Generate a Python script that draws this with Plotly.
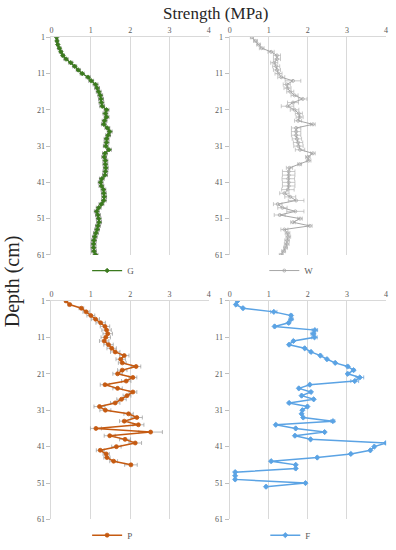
import plotly.graph_objects as go

# ---------------- data ----------------
depth_G = list(range(1, 62))
G_vals = [0.13, 0.14, 0.16, 0.20, 0.24, 0.29, 0.37, 0.49, 0.59, 0.68,
          0.78, 0.93, 1.01, 1.12, 1.16, 1.20, 1.24, 1.26, 1.27, 1.29,
          1.40, 1.37, 1.40, 1.35, 1.33, 1.42, 1.48, 1.44, 1.40, 1.40,
          1.38, 1.46, 1.36, 1.34, 1.37, 1.37, 1.38, 1.37, 1.36, 1.28,
          1.25, 1.27, 1.32, 1.33, 1.34, 1.33, 1.27, 1.20, 1.15, 1.18,
          1.20, 1.21, 1.18, 1.16, 1.13, 1.10, 1.08, 1.07, 1.07, 1.08,
          1.12]
G_err = [0.03, 0.03, 0.03, 0.04, 0.04, 0.04, 0.05, 0.05, 0.05, 0.05,
         0.05, 0.05, 0.06, 0.06, 0.06, 0.06, 0.06, 0.06, 0.06, 0.06,
         0.06, 0.06, 0.06, 0.06, 0.06, 0.06, 0.06, 0.06, 0.06, 0.06,
         0.06, 0.06, 0.06, 0.06, 0.06, 0.06, 0.06, 0.06, 0.06, 0.06,
         0.06, 0.06, 0.06, 0.06, 0.06, 0.06, 0.06, 0.06, 0.06, 0.06,
         0.06, 0.06, 0.06, 0.06, 0.06, 0.06, 0.06, 0.06, 0.06, 0.06,
         0.06]

depth_W = list(range(1, 62))
W_vals = [0.57, 0.66, 0.74, 0.82, 1.06, 1.21, 1.21, 1.14, 1.19, 1.21,
          1.25, 1.32, 1.62, 1.46, 1.48, 1.55, 1.66, 1.87, 1.62, 1.48,
          1.66, 1.77, 1.79, 1.75, 2.13, 1.70, 1.70, 1.70, 1.72, 1.75,
          1.76, 1.80, 2.13, 2.00, 2.02, 1.79, 1.53, 1.51, 1.51, 1.50,
          1.51, 1.51, 1.49, 1.40, 1.55, 1.70, 1.23, 1.35, 1.68, 1.28,
          1.80, 1.62, 2.05, 1.40, 1.48, 1.50, 1.47, 1.46, 1.43, 1.38,
          1.32]
W_err = [0.04, 0.05, 0.05, 0.06, 0.08, 0.09, 0.09, 0.09, 0.09, 0.09,
         0.09, 0.09, 0.20, 0.09, 0.09, 0.09, 0.09, 0.11, 0.14, 0.16,
         0.11, 0.09, 0.09, 0.09, 0.06, 0.12, 0.12, 0.12, 0.12, 0.12,
         0.12, 0.12, 0.06, 0.06, 0.06, 0.05, 0.08, 0.16, 0.16, 0.16,
         0.16, 0.16, 0.16, 0.12, 0.14, 0.20, 0.11, 0.12, 0.22, 0.14,
         0.06, 0.06, 0.06, 0.09, 0.06, 0.06, 0.06, 0.06, 0.05, 0.05,
         0.05]

depth_P = list(range(1, 47))
P_vals = [0.37, 0.46, 0.76, 0.88, 1.00, 1.12, 1.25, 1.36, 1.40, 1.43,
          1.38, 1.34, 1.45, 1.53, 1.62, 1.85, 1.76, 1.80, 2.15, 1.80,
          1.68, 2.07, 1.90, 1.36, 1.68, 2.07, 1.92, 1.78, 1.62, 1.22,
          1.37, 1.96, 2.17, 1.85, 2.21, 1.13, 2.52, 1.48, 1.87, 2.13,
          1.65, 1.24, 1.39, 1.41, 1.58, 2.02]
P_err = [0.03, 0.04, 0.06, 0.08, 0.10, 0.10, 0.12, 0.12, 0.12, 0.12,
         0.12, 0.12, 0.12, 0.12, 0.12, 0.12, 0.12, 0.10, 0.12, 0.12,
         0.12, 0.10, 0.12, 0.12, 0.12, 0.10, 0.10, 0.12, 0.12, 0.14,
         0.14, 0.12, 0.14, 0.12, 0.14, 0.14, 0.30, 0.14, 0.14, 0.16,
         0.12, 0.10, 0.08, 0.08, 0.10, 0.16]

depth_F = list(range(1, 53))
F_vals = [0.20, 0.16, 0.34, 1.13, 1.57, 1.57, 1.51, 1.15, 2.18, 2.14,
          2.17, 1.63, 1.52, 1.92, 2.08, 2.32, 2.49, 2.70, 3.02, 3.17,
          3.02, 3.33, 3.20, 2.05, 1.77, 2.08, 1.84, 2.15, 1.52, 1.99,
          1.86, 1.84, 1.88, 2.64, 1.18, 1.69, 2.43, 1.67, 2.07, 4.00,
          3.70, 3.60, 3.10, 2.24, 1.06, 1.69, 1.69, 0.14, 0.14, 0.14,
          1.94, 0.93]
F_err = [0.02, 0.02, 0.02, 0.08, 0.03, 0.05, 0.03, 0.02, 0.07, 0.06,
         0.07, 0.02, 0.02, 0.02, 0.02, 0.02, 0.02, 0.02, 0.03, 0.03,
         0.03, 0.10, 0.10, 0.02, 0.02, 0.02, 0.02, 0.02, 0.02, 0.02,
         0.02, 0.02, 0.02, 0.05, 0.02, 0.02, 0.02, 0.02, 0.02, 0.02,
         0.02, 0.02, 0.02, 0.02, 0.02, 0.02, 0.02, 0.02, 0.02, 0.02,
         0.02, 0.02]

x_ticks = [0, 1, 2, 3, 4]
y_ticks = [1, 11, 21, 31, 41, 51, 61]

# ---------------- figure ----------------
W_PX, H_PX = 396, 550
FONT = "Liberation Serif"

def px_x(p):
    return p / W_PX

def px_y(p):
    return 1 - p / H_PX

series = [
    # name, depths, vals, err, color, errcolor, marker symbol, size, line width, axis idx, legend
    ("G", depth_G, G_vals, G_err, "#3b7a1e", "#6b6b6b", "diamond", 3.5, 1.3, 1, "legend"),
    ("W", depth_W, W_vals, W_err, "#a6a6a6", "#b3b3b3", "circle-open", 3, 1.0, 2, "legend2"),
    ("P", depth_P, P_vals, P_err, "#c55a11", "#999999", "circle", 4, 1.5, 3, "legend3"),
    ("F", depth_F, F_vals, F_err, "#5ba3e4", "#5b9bd5", "diamond", 4, 1.5, 4, "legend4"),
]

fig = go.Figure()
for name, d, v, e, col, ecol, sym, msz, lw, ax, leg in series:
    suffix = "" if ax == 1 else str(ax)
    fig.add_trace(go.Scatter(
        x=v, y=d, name=name, mode="lines+markers",
        line=dict(color=col, width=lw),
        marker=dict(color=col, size=msz, symbol=sym, line=dict(color=col, width=0.8)),
        error_x=dict(type="data", array=e, visible=True, color=ecol,
                     thickness=0.7, width=2),
        xaxis="x" + suffix, yaxis="y" + suffix, legend=leg,
    ))

# panel geometry (pixels)
left_x = (50, 209)
right_x = (230, 388)
top_y = (34, 256)
bot_y = (303, 526)

panels = {
    1: (left_x, top_y),
    2: (right_x, top_y),
    3: (left_x, bot_y),
    4: (right_x, bot_y),
}

tickfont = dict(family=FONT, size=8, color="#595959")
layout = dict(
    width=W_PX, height=H_PX,
    margin=dict(l=0, r=0, t=0, b=0),
    paper_bgcolor="white", plot_bgcolor="white",
    font=dict(family=FONT, color="#404040"),
)
for ax, ((x0, x1), (y0, y1)) in panels.items():
    suffix = "" if ax == 1 else str(ax)
    layout["xaxis" + suffix] = dict(
        domain=[px_x(x0), px_x(x1)], anchor="y" + suffix, side="top",
        range=[0, 4.002], tickvals=x_ticks, ticks="", showgrid=True,
        gridcolor="#d9d9d9", gridwidth=1, zeroline=False,
        showline=True, linecolor="#d9d9d9", linewidth=1,
        tickfont=tickfont, fixedrange=True,
    )
    layout["yaxis" + suffix] = dict(
        domain=[px_y(y1), px_y(y0)], anchor="x" + suffix,
        range=[61, 1], tickvals=y_ticks, ticks="outside", ticklen=4,
        tickcolor="#bfbfbf", showgrid=False, zeroline=False,
        showline=True, linecolor="#d9d9d9", linewidth=1,
        tickfont=tickfont, fixedrange=True,
    )

legend_style = dict(orientation="h", font=dict(family=FONT, size=9, color="#595959"),
                    bgcolor="rgba(0,0,0,0)", xanchor="left", yanchor="middle",
                    itemwidth=30)
layout["legend"] = dict(legend_style, x=px_x(86), y=px_y(272))
layout["legend2"] = dict(legend_style, x=px_x(265), y=px_y(272))
layout["legend3"] = dict(legend_style, x=px_x(86), y=px_y(542))
layout["legend4"] = dict(legend_style, x=px_x(266), y=px_y(542))
layout["showlegend"] = True

layout["annotations"] = [
    dict(text="Strength (MPa)", x=px_x(216), y=px_y(10), xref="paper", yref="paper",
         showarrow=False, font=dict(family=FONT, size=17, color="#262626"),
         xanchor="center", yanchor="middle"),
    dict(text="Depth (cm)", x=px_x(10), y=px_y(283), xref="paper", yref="paper",
         showarrow=False, textangle=-90, font=dict(family=FONT, size=20, color="#262626"),
         xanchor="center", yanchor="middle"),
]

fig.update_layout(**layout)
fig.write_html("out.html", config={"displayModeBar": False},
               post_script="document.body.style.margin='0';document.body.style.overflow='hidden';")
